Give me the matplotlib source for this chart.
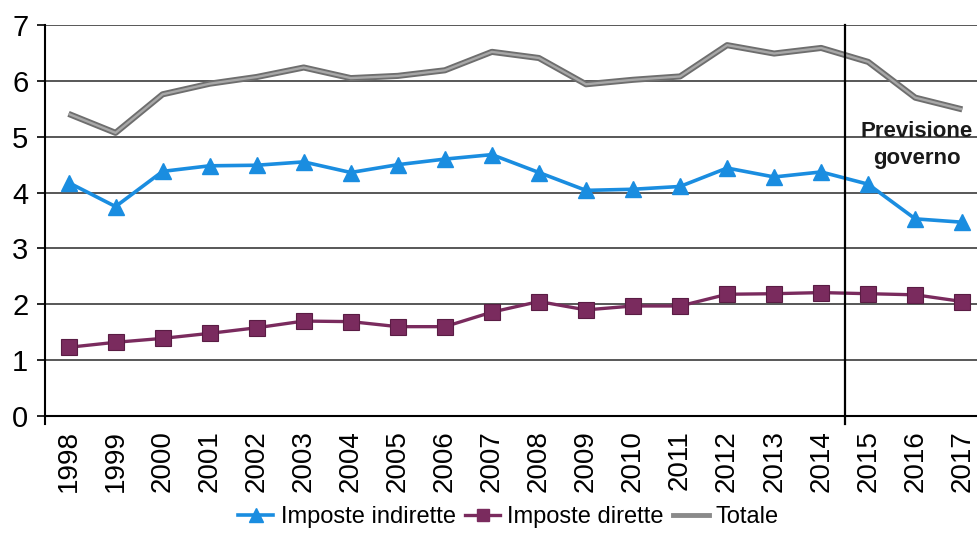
import matplotlib
matplotlib.use("Agg")
import matplotlib.pyplot as plt
from matplotlib.lines import Line2D
from matplotlib import font_manager

years = [str(y) for y in range(1998, 2018)]
imposte_indirette = [4.18, 3.75, 4.38, 4.48, 4.49, 4.55, 4.36, 4.50, 4.60, 4.68,
                     4.36, 4.04, 4.06, 4.11, 4.44, 4.28, 4.37, 4.15, 3.53, 3.47]
imposte_dirette = [1.23, 1.32, 1.39, 1.48, 1.58, 1.70, 1.69, 1.60, 1.60, 1.86,
                   2.05, 1.90, 1.97, 1.97, 2.18, 2.19, 2.21, 2.19, 2.17, 2.05]
totale = [5.41, 5.07, 5.76, 5.95, 6.07, 6.24, 6.05, 6.09, 6.19, 6.52,
          6.41, 5.94, 6.02, 6.08, 6.64, 6.49, 6.59, 6.34, 5.70, 5.49]
y_ticks = [0, 1, 2, 3, 4, 5, 6, 7]
forecast_start = "2015"
forecast_label = "Previsione\ngoverno"

installed = {f.name for f in font_manager.fontManager.ttflist}
narrow = "Liberation Sans Narrow" if "Liberation Sans Narrow" in installed else "Liberation Sans"
plt.rcParams["font.family"] = [narrow, "DejaVu Sans"]

fig = plt.figure(figsize=(9.78, 5.40), dpi=100)
ax = fig.add_axes([0.046, 0.2296, 0.962, 0.724])

x = list(range(len(years)))

blue = "#1a8de0"
purple = "#7a2b5e"

# horizontal gridlines
for v in y_ticks[1:]:
    ax.axhline(v, color="#2a2a2a", lw=1.1, zorder=1)

# total drawn as a two-tone grey band
ax.plot(x, totale, color="#6e6e6e", lw=4.4, solid_capstyle="butt", zorder=3)
ax.plot(x, totale, color="#a8a8a8", lw=1.7, solid_capstyle="butt", zorder=3.1)
ax.plot(x, imposte_indirette, color=blue, lw=2.6, marker="^", markersize=12,
        markerfacecolor=blue, markeredgecolor=blue, zorder=4)
ax.plot(x, imposte_dirette, color=purple, lw=2.4, marker="s", markersize=11,
        markerfacecolor=purple, markeredgecolor="#5a1c44", markeredgewidth=0.8, zorder=4)

# forecast separator and label
xv = years.index(forecast_start) - 0.5
ax.axvline(xv, ymin=-0.02, ymax=1, color="black", lw=1.6, clip_on=False, zorder=5)
ax.text(years.index(forecast_start) + 1.03, 4.85, forecast_label, ha="center", va="center",
        fontsize=16, fontweight="bold", color="#1a1a1a", linespacing=1.35, zorder=6)

ax.set_xlim(-0.5, len(years) - 0.5)
ax.set_ylim(0, 7)
ax.set_yticks(y_ticks)
ax.set_xticks(x)
ax.set_xticklabels(years, rotation=90, fontsize=20)
ax.tick_params(axis="y", labelsize=21, length=6, width=1.2, color="black", pad=6)
ax.tick_params(axis="x", length=0, pad=10)
for s in ["top", "right"]:
    ax.spines[s].set_visible(False)
ax.spines["left"].set_linewidth(1.5)
ax.spines["bottom"].set_linewidth(1.5)
ax.spines["left"].set_bounds(-0.15, 7)

handles = [
    Line2D([], [], color=blue, lw=2.6, marker="^", markersize=10),
    Line2D([], [], color=purple, lw=2.4, marker="s", markersize=9),
    Line2D([], [], color="#8a8a8a", lw=3.5),
]
fig.legend(handles, ["Imposte indirette", "Imposte dirette", "Totale"],
           loc="center", bbox_to_anchor=(0.52, 0.043), ncol=3, frameon=False,
           fontsize=17, handlelength=1.5, handletextpad=0.3, columnspacing=0.4)

fig.savefig("out.png", dpi=100)
